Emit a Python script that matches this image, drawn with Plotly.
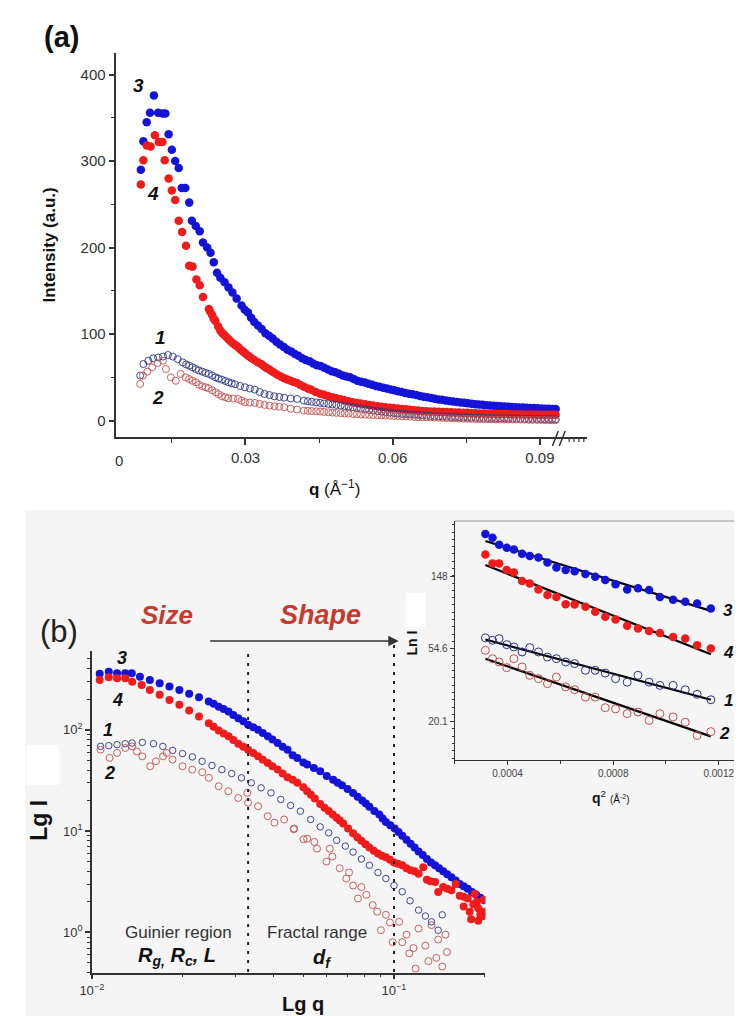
import math
import plotly.graph_objects as go

# The page body has an 8px margin, so the figure is drawn 8px in from the window's corner.
OFF = 8
W, H = 742 - OFF, 1016 - OFF
def X(px): return (px - OFF) / W
def Y(py): return 1 - (py - OFF) / H

# ---------------- Panel (a): linear I(q) ----------------
a_q3 = [0.00868,0.0092,0.00988,0.01054,0.01134,0.0122,0.01308,0.01368,0.01434,0.0150,0.01568,0.0164,0.0170,0.01774,
        0.01854,0.01908,0.01988,0.02068,0.02134,0.0222,0.02288,0.02354,0.0242,0.02488,0.02574,0.02654,0.02734,0.0282,
        0.0292,0.0305,0.0318,0.0333,0.0348,0.0363,0.0378,0.0393,0.0408,0.0423,0.0438,0.0453,0.0468,0.0483,0.0498,0.0513,
        0.0528,0.0543,0.0558,0.0573,0.0588,0.0603,0.0618,0.0633,0.0648,0.0663,0.0678,0.0693,0.0708,0.0723,0.0738,0.0753,
        0.0768,0.0783,0.0798,0.0813,0.0828,0.0843,0.0858,0.0873,0.0888,0.0903,0.0918,0.0932,
        0.02985,0.03115,0.03255,0.03405,0.03555,0.03705,0.03855,0.04005,0.04155,0.04305,0.04455,0.04605,0.04755,0.04905,
        0.05055,0.05205,0.05355,0.05505,0.05655,0.05805,0.05955,0.06105,0.06255,0.06405,0.06555,0.06705,0.06855,0.07005,
        0.07155,0.07305,0.07455,0.07605,0.07755,0.07905,0.08055,0.08205,0.08355,0.08505,0.08655,0.08805,0.08955,0.09105,
        0.09255]
a_i3 = [290,323,345,356,376,356,355,355,331,313,300,292,269,269,
        252,231,225,219,206,200,194,183,171,165,160,154,148,141,
        133,125,114,106,98,91,85,80,75,70,66,63,59,56,52,50,
        46,44,41.5,39,37,35,33,31,29.5,27.5,26,24.5,23.2,22,21,20,
        19,18.2,17.5,16.8,16.2,15.6,15.2,14.8,14.4,14,13.6,13.3,
        128,119,110,101,95,88,82,77,72,68.5,64,61,57,54,
        51,48,45,42.5,40,38,36,34,32,30.5,28.5,27,25.3,24,
        22.6,21.5,20.5,19.5,18.6,17.8,17.2,16.5,15.9,15.4,15,14.6,14.2,13.8,
        13.4]

a_q4 = [0.00868,0.0092,0.00988,0.01068,0.01154,0.01234,0.01308,0.01354,0.01434,0.0150,0.01568,0.0164,0.01708,0.01788,
        0.01854,0.0192,0.0200,0.02068,0.02134,0.02254,0.0232,0.02388,0.02488,0.0257,0.02654,0.0275,0.02854,0.0295,
        0.03054,0.0318,0.0332,0.0342,0.0352,0.0365,0.0379,0.0392,0.0405,0.0419,0.0434,0.0452,0.0468,0.0485,0.0502,
        0.0519,0.0535,0.0552,0.0569,0.0585,0.0602,0.0619,0.0635,0.0652,0.0669,0.0685,0.0702,0.0719,0.0735,0.0752,
        0.0769,0.0785,0.0802,0.0819,0.0835,0.0852,0.0869,0.0885,0.0902,0.0918,0.0932,
        0.0228,0.0235,0.0244,0.0253,0.0261,0.0270,0.0280,0.0290,0.0300,0.0311,0.0325,0.0337,0.0347,0.0358,0.0372,
        0.0385,0.0398,0.0412,0.0427,0.0443,0.0460,0.0477,0.0494,0.0510,0.0527,0.0544,0.0560,0.0577,0.0594,0.0610,
        0.0627,0.0644,0.0660,0.0677,0.0694,0.0710,0.0727,0.0744,0.0760,0.0777,0.0794,0.0810,0.0827,0.0844,0.0860,
        0.0877,0.0894,0.0910,0.0925]
a_i4 = [273,301,318,317,330,322,322,301,280,266,255,231,218,202,
        179,178,163,156.5,143,129,122,115,104,99,94,89,84.7,80,
        75,70,65.4,61,57.7,53,49,46,43.5,39,35.5,31,28.5,25.8,23.5,
        21.2,19.6,18.1,16.6,15.4,14.4,13.5,12.5,11.5,10.9,10.4,10,9.6,9.2,8.9,
        8.5,8.1,7.9,7.7,7.5,7.3,7.1,6.9,6.8,6.7,6.6,
        126,118,109,101,96.5,91.5,87,82,77.5,72.5,67.5,63,59.5,55.5,51,
        47.5,44.5,41,37,33,29.8,27,24.6,22.4,20.4,18.8,17.3,16,14.9,13.9,
        13,12,11.2,10.6,10.2,9.8,9.4,9.0,8.7,8.3,8.0,7.8,7.6,7.4,7.2,
        7.0,6.85,6.75,6.65]

a_q1 = [0.00854,0.0092,0.0102,0.0112,0.0122,0.0132,0.0142,0.0152,0.0162,0.0172,0.0179,0.01854,0.0192,0.01988,0.0205,
        0.0212,0.0219,0.02254,0.0232,0.02388,0.0245,0.0252,0.0259,0.02654,0.0272,0.02788,0.0289,0.02988,0.0309,0.03188,
        0.0329,0.03388,0.0349,0.03588,0.0369,0.03788,0.0392,0.04054,0.0419,0.0435,0.0452,0.0469,0.0485,0.0502,0.0519,
        0.0535,0.0552,0.0569,0.0585,0.0602,0.0619,0.0635,0.0652,0.0669,0.0685,0.0702,0.0719,0.0735,0.0752,0.0769,
        0.0785,0.0802,0.0819,0.0835,0.0852,0.0869,0.0885,0.0902,0.0918,0.0932,
        0.0427,0.0444,0.0460,0.0477,0.0494,0.0510,0.0527,0.0544,0.0560,0.0577,0.0594,0.0610,0.0627,0.0644,0.0660,
        0.0677,0.0694,0.0710,0.0727,0.0744,0.0760,0.0777,0.0794,0.0810,0.0827,0.0844,0.0860,0.0877,0.0894,0.0910,0.0925]
a_i1 = [52,65.4,69.2,72,73,74,75.8,74,71,67.3,65,63.4,61.5,59.6,58,
        56.5,55,53.9,52,50,48.6,47.3,45.8,44.3,43,42,40,38.5,37,35.8,
        33,30.8,29.5,28.1,27.3,26.5,25.5,25,23,21.7,20.4,19.2,18.1,16.8,15.4,
        13.8,12.3,11,9.7,8.7,7.7,7.1,6.6,5.8,5.1,4.7,4.3,3.9,3.5,3.3,
        3.1,2.9,2.7,2.5,2.3,2.1,2,1.8,1.7,1.6,
        22.3,21,19.8,18.6,17.4,16.1,14.6,13,11.6,10.3,9.2,8.2,7.4,6.8,6.2,
        5.4,4.9,4.5,4.1,3.7,3.4,3.2,3.0,2.8,2.6,2.4,2.2,2.05,1.9,1.75,1.65]

a_q2 = [0.00854,0.0091,0.0100,0.011,0.0121,0.0132,0.0138,0.0148,0.0158,0.0168,0.0178,0.0185,0.0192,0.0199,0.0205,
        0.0212,0.0219,0.0225,0.0232,0.0239,0.0245,0.0252,0.0259,0.0265,0.0275,0.0285,0.0292,0.0299,0.0309,0.0319,
        0.0329,0.0339,0.0349,0.0359,0.0369,0.0379,0.0392,0.0405,0.0419,0.0435,0.0452,0.0469,0.0485,0.0502,0.0519,
        0.0535,0.0552,0.0569,0.0585,0.0602,0.0619,0.0635,0.0652,0.0669,0.0685,0.0702,0.0719,0.0735,0.0752,0.0769,
        0.0785,0.0802,0.0819,0.0835,0.0852,0.0869,0.0885,0.0902,0.0918,0.0932,
        0.0427,0.0444,0.0460,0.0477,0.0494,0.0510,0.0527,0.0544,0.0560,0.0577,0.0594,0.0610,0.0627,0.0644,0.0660,
        0.0677,0.0694,0.0710,0.0727,0.0744,0.0760,0.0777,0.0794,0.0810,0.0827,0.0844,0.0860,0.0877,0.0894,0.0910,0.0925]
a_i2 = [42.3,52,56.5,61.6,66.5,69.2,59.6,50,46,54,50,48,46,44.3,41.5,
        39.7,38.5,37.4,35,32.7,30.5,28.1,27,25.8,25.5,25,23,21.2,20.8,20.4,
        19.2,18.1,17.3,16.6,16,15.4,13.8,12.8,11.5,11,10.4,9.6,8.9,8.3,7.7,
        7.1,6.6,6.2,5.8,5.4,5.1,4.5,3.9,3.7,3.5,3.1,2.7,2.3,2.0,1.8,
        1.6,1.4,1.2,1.2,1.2,1.0,0.8,0.7,0.5,0.4,
        11.2,10.7,10,9.2,8.6,8,7.4,6.8,6.4,6,5.6,5.2,4.8,4.2,3.8,
        3.6,3.3,2.9,2.5,2.15,1.9,1.7,1.5,1.3,1.2,1.2,1.1,0.9,0.75,0.6,0.45]

a_xticks = [0.03, 0.06, 0.09]
a_yticks = [0, 100, 200, 300, 400]

# ---------------- Panel (b): log-log ----------------
b_q3 = [0.01062,0.01138,0.01212,0.0129,0.01356,0.01443,0.01556,0.01677,0.01807,0.01949,0.021,0.02263,0.02438,0.0263,
        0.02834,0.03054,0.0329,0.03548,0.03824,0.04121,0.04442,0.04787,0.0516,0.057,0.0629,0.0673,0.0732,0.0785,
        0.0829,0.0894,0.094,0.1005,0.1065,0.1135,0.1206,0.1285,0.1367,0.1455,0.1549,0.1650,0.1754,0.1870,0.1988,
        0.0253,0.0273,0.0294,0.0317,0.0342,0.0368,0.0396,0.0428,0.0462,0.0501,0.0543,0.0599,0.0651,0.0702,0.0758,
        0.0807,0.0861,0.0917,0.0972,0.1035,0.11,0.117,0.1245,0.1325,0.141,0.150,0.160,0.170,0.181,0.193]
b_i3 = [356,374,361,361,361,334,310,288,267,247,226,209,190,169,
        151,130,112,100,86,74,63.6,52.7,45.3,38.9,32,28.3,23.8,20,
        17.4,14.6,12.3,10.6,9.0,7.5,6.3,5.3,4.6,4.0,3.5,3.0,2.7,2.35,2.08,
        180,160,140,121,106,93,80,68,56,47.5,42,35,30,26,21.8,
        18.7,15.8,13.3,11.4,9.8,8.2,6.9,5.8,4.9,4.3,3.75,3.25,2.85,2.5,2.2]

b_q4 = [0.01062,0.01138,0.01212,0.0129,0.0136,0.01462,0.01556,0.01677,0.01807,0.01949,0.021,0.02263,0.02438,0.0263,
        0.02834,0.03054,0.0329,0.03548,0.03824,0.04121,0.04442,0.04787,0.0516,0.0547,0.057,0.0608,0.0646,0.0679,
        0.0732,0.0780,0.0829,0.0885,0.094,0.100,0.1065,0.1135,0.1206,0.125,0.1285,0.1367,0.14,0.1455,0.1549,0.16,
        0.165,0.17,0.1754,0.18,0.183,0.185,0.19,0.19,0.195,0.196,0.197,0.198,0.2,
        0.0253,0.0273,0.0294,0.0317,0.0342,0.0368,0.0396,0.0428,0.0462,0.0501,0.0531,0.0589,0.0627,0.0662,0.0705,
        0.0756,0.0805,0.0857,0.0912,0.097,0.103,0.110,0.117,0.132,0.15,0.17,0.178,0.188,0.193]
b_i4 = [310,330,322,322,298,277,247,221,197,176,155,135,116,98.5,
        86,72.8,63.6,54.6,47,40.4,34,29.9,24.7,21,18.5,15.8,13.5,11.9,
        9.5,8.0,6.9,6.0,5.5,4.9,4.6,4.1,3.8,4.4,3.3,3.15,2.5,2.8,2.6,3.0,
        2.3,1.8,2.16,1.35,1.9,2.4,1.73,1.3,1.45,1.6,1.45,2.1,1.6,
        107,92,79,68,59,50.5,43.5,37,32,27,22.8,17,14.6,12.7,10.6,
        8.7,7.4,6.4,5.7,5.2,4.75,4.3,4.0,3.2,2.7,2.25,1.6,2.0,1.5]

b_q1 = [0.01069,0.01138,0.01212,0.0129,0.0136,0.0147,0.0160,0.01718,0.01852,0.01996,0.02151,0.02318,0.02498,0.02694,
        0.02903,0.03128,0.03371,0.03633,0.03916,0.0422,0.04548,0.04901,0.0530,0.057,0.0608,0.0646,0.0690,0.0732,
        0.078,0.0829,0.0885,0.094,0.100,0.1065,0.113,0.1206,0.127,0.1331,0.140,0.1444]
b_i1 = [68.5,69.6,71.2,72.8,74,75,72.8,68.5,62.5,58.1,53.9,48.8,44.3,40.4,
        36.9,33.5,29.9,26.7,23.8,20.5,17.9,15.7,13.0,11.0,9.6,8.1,7.1,6.2,
        5.3,4.6,3.9,3.4,2.9,2.52,2.05,1.66,1.45,1.27,1.05,1.49]

b_q2 = [0.01069,0.01145,0.01212,0.0129,0.0136,0.0141,0.0147,0.0156,0.0163,0.0172,0.0177,0.0185,0.01996,0.0215,0.0232,
        0.0244,0.0263,0.0283,0.0305,0.0327,0.0329,0.0355,0.0382,0.0402,0.0433,0.0466,0.0467,0.0502,0.0516,0.0545,
        0.0556,0.0598,0.0613,0.0625,0.0661,0.0695,0.071,0.0732,0.076,0.078,0.081,0.085,0.088,0.0905,0.094,0.097,
        0.099,0.104,0.1065,0.110,0.1124,0.116,0.1179,0.1206,0.127,0.13,0.1331,0.138,0.14,0.1444,0.148,0.1497]
b_i2 = [63.6,52.7,59,66,68.5,61,54.6,43.6,48.8,54.6,59,50.7,43.6,40.4,38.1,
        33.5,27.7,24.7,21.2,23.8,19.0,17.6,14.0,12.1,13.0,10.4,10.6,8.3,8.4,7.8,
        6.7,5.0,6.7,5.6,4.3,3.4,3.9,2.9,2.16,2.8,2.35,1.86,1.6,1.05,1.49,1.25,
        0.80,1.27,0.80,0.95,0.62,0.7,0.44,1.09,0.74,0.52,1.18,0.56,0.85,0.46,0.95,0.64]

b_xticks = [0.01, 0.1]
b_xticktext = ['10<sup>−2</sup>', '10<sup>−1</sup>']
b_yticks = [1, 10, 100]
b_yticktext = ['10<sup>0</sup>', '10<sup>1</sup>', '10<sup>2</sup>']

# ---------------- Inset: Guinier plot ----------------
g_q2 = [0.000316,0.000343,0.000368,0.000397,0.000424,0.000455,0.000484,0.000517,0.000551,0.000585,0.000620,0.000654,
        0.000695,0.000732,0.000770,0.000809,0.000853,0.000894,0.000936,0.000977,0.001027,0.001073,0.001118,0.001170]
g_i3 = [263,250,227,218,213,201,195,191,178,166.5,160.5,158,152,146.5,140,132,123,125,122,111,107,104,101.5,94.7]
g_i4 = [199,176,176,160.5,155.4,138,133.6,123,114,111,100.6,100,97,90.5,84.5,81.5,74.7,72,69.7,67.8,64.2,62.7,57.2,54.7]
g_i1 = [63.3,61.3,62.7,57.7,55.9,52.2,55.4,52.2,48.7,47.6,45.5,44.5,40.6,40.6,39.1,36.2,34.5,37.9,34.5,33.0,33.0,31.1,29.2,27.1]
g_i2 = [53.4,47.6,45.5,42.1,47.6,42.5,37.9,36.2,33.8,37.0,32.3,31.1,28.1,28.1,24.3,23.9,22.4,22.9,20.4,22.4,21.4,19.9,16.6,17.5]
fit_q2 = [0.000316, 0.00117]
fit_i3 = [239, 91.7]
fit_i4 = [172, 50.6]
fit_i1 = [61.9, 27.1]
fit_i2 = [47.6, 16.4]
g_yticks = [20.1, 54.6, 148]
g_xticks = [0.0004, 0.0008, 0.0012]

BLUE = '#1414d8'
RED = '#f01c1c'
OBLUE = '#2a3380'
ORED = '#c0504d'
FONT = 'Arial, Liberation Sans, sans-serif'

fig = go.Figure()

def pts(x, y, xa, ya, color, size, filled, lw=0.9):
    if filled:
        m = dict(symbol='circle', color=color, size=size, line=dict(width=0))
    else:
        m = dict(symbol='circle-open', color=color, size=size, line=dict(width=lw, color=color))
    fig.add_trace(go.Scatter(x=x, y=y, xaxis=xa, yaxis=ya, mode='markers', marker=m,
                             hoverinfo='skip', showlegend=False))

# panel a
pts(a_q3, a_i3, 'x', 'y', BLUE, 8.5, True)
pts(a_q4, a_i4, 'x', 'y', RED, 8.5, True)
pts(a_q1, a_i1, 'x', 'y', OBLUE, 7, False)
pts(a_q2, a_i2, 'x', 'y', ORED, 7, False)
# panel b
pts(b_q3, b_i3, 'x2', 'y2', BLUE, 8, True)
pts(b_q4, b_i4, 'x2', 'y2', RED, 8, True)
pts(b_q1, b_i1, 'x2', 'y2', OBLUE, 6.5, False)
pts(b_q2, b_i2, 'x2', 'y2', ORED, 7, False)
# inset
for fi in (fit_i3, fit_i4, fit_i1, fit_i2):
    fig.add_trace(go.Scatter(x=fit_q2, y=fi, xaxis='x3', yaxis='y3', mode='lines',
                             line=dict(color='black', width=2.2), hoverinfo='skip', showlegend=False))
pts(g_q2, g_i3, 'x3', 'y3', BLUE, 8.5, True)
pts(g_q2, g_i4, 'x3', 'y3', RED, 8.5, True)
pts(g_q2, g_i1, 'x3', 'y3', OBLUE, 8, False, 1)
pts(g_q2, g_i2, 'x3', 'y3', ORED, 8, False, 1)

AX = dict(showgrid=False, zeroline=False, showline=True, linecolor='#333', linewidth=1.5,
          ticks='outside', tickcolor='#333', tickwidth=1.5, ticklen=6)

log_minor_x = [m * 10 ** k for k in (-2, -1) for m in range(2, 10)]
log_minor_y = [m * 10 ** k for k in (-1, 0, 1, 2) for m in range(2, 10)]

fig.update_layout(
    width=W, height=H, margin=dict(l=0, r=0, t=0, b=0),
    paper_bgcolor='white', plot_bgcolor='rgba(0,0,0,0)', showlegend=False,
    font=dict(family=FONT, color='#222'),
    xaxis=dict(AX, domain=[X(106), X(584)], range=[0.0037, 0.0995], tickvals=a_xticks,
               ticktext=['0.03', '0.06', '0.09'], tickfont=dict(size=15, color='#333'),
               minor=dict(dtick=0.015, tick0=0, ticks='outside', ticklen=4, tickcolor='#333', tickwidth=1.2),
               anchor='y'),
    yaxis=dict(AX, domain=[Y(437), Y(53)], range=[-19, 425], tickvals=a_yticks,
               tickfont=dict(size=15, color='#333'),
               minor=dict(dtick=50, tick0=0, ticks='outside', ticklen=4, tickcolor='#333', tickwidth=1.2),
               anchor='x'),
    xaxis2=dict(AX, type='log', domain=[X(81), X(481)], range=[-2, -0.698], tickvals=b_xticks,
                ticktext=b_xticktext, tickfont=dict(size=13, color='#333'), ticklen=5,
                minor=dict(tickvals=log_minor_x, ticks='outside', ticklen=3, tickcolor='#333', tickwidth=1),
                anchor='y2'),
    yaxis2=dict(AX, type='log', domain=[Y(972.7), Y(651)], range=[-0.398, 2.777], tickvals=b_yticks,
                ticktext=b_yticktext, tickfont=dict(size=13, color='#333'), ticklen=5,
                minor=dict(tickvals=log_minor_y, ticks='outside', ticklen=3, tickcolor='#333', tickwidth=1),
                anchor='x2'),
    xaxis3=dict(AX, domain=[X(450), 1.0], range=[0.0002, 0.001288], tickvals=g_xticks,
                ticktext=['0.0004', '0.0008', '0.0012'], tickfont=dict(size=10, color='#444'),
                linewidth=1.2, ticklen=4, tickwidth=1,
                minor=dict(dtick=0.0002, tick0=0, ticks='outside', ticklen=3, tickcolor='#333'),
                anchor='y3'),
    yaxis3=dict(AX, type='log', domain=[Y(760), Y(521)], range=[1.074, 2.498], tickvals=g_yticks,
                ticktext=['20.1', '54.6', '148'], tickfont=dict(size=10, color='#444'),
                linewidth=1.2, ticklen=4, tickwidth=1,
                minor=dict(tickvals=[math.exp(k / 10) for k in range(25, 58)], ticks='outside',
                           ticklen=2, tickcolor='#333', tickwidth=0.8),
                anchor='x3'),
)

shapes = []
# grey background of panel (b)
shapes.append(dict(type='rect', xref='paper', yref='paper', x0=X(13), x1=1.02, y0=-0.02, y1=Y(510),
                   fillcolor='#f5f5f5', line=dict(width=0), layer='below'))
# white patches
shapes.append(dict(type='rect', xref='paper', yref='paper', x0=X(15), x1=X(48), y0=Y(785), y1=Y(745),
                   fillcolor='white', line=dict(width=0), layer='below'))
shapes.append(dict(type='rect', xref='paper', yref='paper', x0=X(400), x1=X(420), y0=Y(627), y1=Y(593),
                   fillcolor='white', line=dict(width=0), layer='below'))
# inset top border
shapes.append(dict(type='line', xref='paper', yref='paper', x0=X(450), x1=1, y0=Y(521), y1=Y(521),
                   line=dict(color='#999', width=1)))
# dashed region separators
shapes.append(dict(type='line', xref='x2', yref='paper', x0=0.0329, x1=0.0329, y0=Y(972), y1=Y(650),
                   line=dict(color='#222', width=2, dash='3px,6px')))
shapes.append(dict(type='line', xref='x2', yref='paper', x0=0.1, x1=0.1, y0=Y(972), y1=Y(645),
                   line=dict(color='#222', width=2, dash='3px,6px')))
# axis break marks on panel (a)
for xa, xb in ((0.09254, 0.09374), (0.09394, 0.09514)):
    shapes.append(dict(type='line', xref='x', yref='paper', x0=xa, x1=xb, y0=Y(446), y1=Y(431),
                       line=dict(color='#333', width=1.5)))
for xt in (0.09594, 0.09694, 0.09794, 0.09894):
    shapes.append(dict(type='line', xref='x', yref='paper', x0=xt, x1=xt, y0=Y(442), y1=Y(437),
                       line=dict(color='#333', width=1.2)))
fig.update_layout(shapes=shapes)

ann = []
def txt(px, py, text, size, color='#111', angle=0, xanchor='center'):
    ann.append(dict(x=X(px), y=Y(py), xref='paper', yref='paper', text=text, showarrow=False,
                    font=dict(size=size, color=color, family=FONT), textangle=angle,
                    xanchor=xanchor, yanchor='middle'))

txt(50, 37, '<b>(a)</b>', 29)
txt(48, 631, '(b)', 31, '#222')
txt(37, 245, '<b>Intensity (a.u.)</b>', 17, '#111', -90)
txt(328, 488, '<b>q</b> (Å<sup>−1</sup>)', 17)
txt(109, 461, '0', 15, '#333')
# curve labels panel a
for px, py, t in ((128, 86, '3'), (143, 193, '4'), (151, 338, '1'), (148, 398, '2')):
    txt(px, py, '<b><i>%s</i></b>' % t, 19)
# panel b texts
txt(157, 615, '<b><i>Size</i></b>', 26, '#c43b30')
txt(313, 615, '<b><i>Shape</i></b>', 27, '#c43b30')
txt(27, 820, '<b>Lg I</b>', 23, '#111', -90)
txt(296, 1004, '<b>Lg q</b>', 20)
txt(169, 932, 'Guinier region', 17, '#333')
txt(168, 956, '<b><i>R<sub>g,</sub> R<sub>c</sub>, L</i></b>', 20)
txt(310, 932, 'Fractal range', 17, '#333')
txt(315, 958, '<b><i>d<sub>f</sub></i></b>', 20)
for px, py, t in ((112, 658, '3'), (107, 700, '4'), (97, 730, '1'), (99, 773, '2')):
    txt(px, py, '<b><i>%s</i></b>' % t, 18)
# inset texts
txt(407, 643, '<b>Ln I</b>', 14, '#111', -90)
txt(608, 797, '<b>q</b><sup>2</sup> <span style="font-size:10px">(Å<sup>-2</sup>)</span>', 14)
for px, py, t in ((728, 610, '3'), (728, 652, '4'), (728, 700, '1'), (724, 733, '2')):
    txt(px, py, '<b><i>%s</i></b>' % t, 17)
# arrow
ann.append(dict(x=X(393), y=Y(641), xref='paper', yref='paper', ax=-190, ay=0, axref='pixel', ayref='pixel',
                text='', showarrow=True, arrowhead=2, arrowsize=1.3, arrowwidth=1.6, arrowcolor='#333'))
fig.update_layout(annotations=ann)

fig.write_html('out.html')
